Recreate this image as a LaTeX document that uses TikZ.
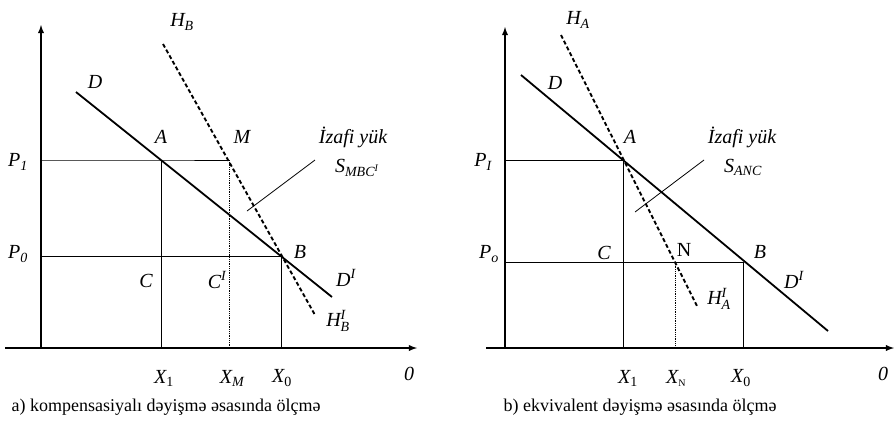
\documentclass[tikz,border=0pt]{standalone}
\usepackage{amsmath}
\usepackage{fontspec}
\setmainfont{Liberation Serif}
\usepackage{tikz}

\begin{document}
\begin{tikzpicture}[x=1pt, y=-1pt, >=latex,
    axis/.style={line width=1.8pt, ->},
    demand/.style={line width=1.8pt},
    hicks/.style={line width=1.9pt, dash pattern=on 4pt off 2.5pt},
    guide/.style={line width=0.8pt},
    dotguide/.style={line width=0.8pt, densely dotted},
    lbl/.style={font=\fontsize{20}{20}\selectfont\itshape, inner sep=0pt},
    capt/.style={font=\fontsize{18}{18}\selectfont, inner sep=0pt}]
    \useasboundingbox (0,0) rectangle (894,432);

    % --- PANEL a: NOQTELER ---
    \coordinate (a-O) at (41,348);
    \coordinate (a-Yt) at (41,25);
    \coordinate (a-Xl) at (5,348);
    \coordinate (a-Xr) at (417,348);
    \coordinate (a-A) at (161,160);
    \coordinate (a-M) at (229,160);
    \coordinate (a-B) at (281,256);
    \coordinate (a-P1) at (41,160);
    \coordinate (a-P0) at (41,256);
    \coordinate (a-X1) at (161,348);
    \coordinate (a-XM) at (229,348);
    \coordinate (a-X0) at (281,348);
    \coordinate (a-D1) at (76,92);
    \coordinate (a-D2) at (332,297);
    \coordinate (a-H1) at (163,44);
    \coordinate (a-H2) at (315,315);
    \coordinate (a-S1) at (247,211);
    \coordinate (a-S2) at (315,160);

    % --- PANEL a: XETLER ---
    \draw[axis] (a-Xl) -- (a-Xr);
    \draw[axis] (a-O) -- (a-Yt);
    \draw[guide] (a-P1) -- (a-A) -- (a-M);
    \draw[guide] (a-P0) -- (a-B);
    \draw[guide] (a-A) -- (a-X1);
    \draw[dotguide] (a-M) -- (a-XM);
    \draw[guide] (a-B) -- (a-X0);
    \draw[demand] (a-D1) -- (a-D2);
    \draw[hicks] (a-H1) -- (a-H2);
    \draw[guide] (a-S1) -- (a-S2);

    % --- PANEL a: YAZILAR ---
    \node[lbl] (a-lHB) at (182,22) {H$_{\textit{B}}$};
    \node[lbl] (a-lD) at (95,82) {D};
    \node[lbl] (a-lA) at (161,137) {A};
    \node[lbl] (a-lM) at (242,137) {M};
    \node[lbl] (a-lIz) at (353,137) {İzafi yük};
    \node[lbl] (a-lS) at (357,168) {S$_{\textit{MBC}^{\textit{I}}}$};
    \node[lbl] (a-lP1) at (18,162) {P$_{\textit{1}}$};
    \node[lbl] (a-lP0) at (18,254) {P$_{\textit{0}}$};
    \node[lbl] (a-lB) at (300,252) {B};
    \node[lbl] (a-lDI) at (346,278) {D$^{\textit{I}}$};
    \node[lbl] (a-lHBI) at (338,321) {H$^{\textit{I}}_{\textit{B}}$};
    \node[lbl] (a-lC) at (146,281) {C};
    \node[lbl] (a-lCI) at (217,280) {C$^{\textit{I}}$};
    \node[lbl] (a-lX1) at (164,378) {X$_{\textup{1}}$};
    \node[lbl] (a-lXM) at (232,378) {X$_{\textit{M}}$};
    \node[lbl] (a-lX0) at (282,378) {X$_{\textup{0}}$};
    \node[lbl] (a-l0) at (409,374) {0};
    \node[capt] (a-cap) at (166,407) {a) kompensasiyalı dəyişmə əsasında ölçmə};

    % --- PANEL b: NOQTELER ---
    \coordinate (b-O) at (505,348);
    \coordinate (b-Yt) at (505,27);
    \coordinate (b-Xl) at (486,348);
    \coordinate (b-Xr) at (894,348);
    \coordinate (b-A) at (623,160);
    \coordinate (b-N) at (675,262);
    \coordinate (b-B) at (743,262);
    \coordinate (b-PI) at (505,160);
    \coordinate (b-Po) at (505,262);
    \coordinate (b-X1) at (623,348);
    \coordinate (b-XN) at (675,348);
    \coordinate (b-X0) at (743,348);
    \coordinate (b-D1) at (521,75);
    \coordinate (b-D2) at (828,331);
    \coordinate (b-H1) at (561,35);
    \coordinate (b-H2) at (698,308);
    \coordinate (b-S1) at (635,212);
    \coordinate (b-S2) at (704,160);

    % --- PANEL b: XETLER ---
    \draw[axis] (b-Xl) -- (b-Xr);
    \draw[axis] (b-O) -- (b-Yt);
    \draw[guide] (b-PI) -- (b-A);
    \draw[guide] (b-Po) -- (b-B);
    \draw[guide] (b-A) -- (b-X1);
    \draw[dotguide] (b-N) -- (b-XN);
    \draw[guide] (b-B) -- (b-X0);
    \draw[demand] (b-D1) -- (b-D2);
    \draw[hicks] (b-H1) -- (b-H2);
    \draw[guide] (b-S1) -- (b-S2);

    % --- PANEL b: YAZILAR ---
    \node[lbl] (b-lHA) at (578,20) {H$_{\textit{A}}$};
    \node[lbl] (b-lD) at (555,83) {D};
    \node[lbl] (b-lA) at (630,137) {A};
    \node[lbl] (b-lIz) at (742,137) {İzafi yük};
    \node[lbl] (b-lS) at (743,167) {S$_{\textit{ANC}}$};
    \node[lbl] (b-lPI) at (483,162) {P$_{\textit{I}}$};
    \node[lbl] (b-lPo) at (489,254) {P$_{\textit{o}}$};
    \node[lbl] (b-lC) at (604,253) {C};
    \node[lbl] (b-lN) at (684,250) {\textup{N}};
    \node[lbl] (b-lB) at (760,252) {B};
    \node[lbl] (b-lDI) at (794,280) {D$^{\textit{I}}$};
    \node[lbl] (b-lHAI) at (719,299) {H$^{\textit{I}}_{\textit{A}}$};
    \node[lbl] (b-lX1) at (628,378) {X$_{\textup{1}}$};
    \node[lbl] (b-lXN) at (676,378) {X$_{\scriptscriptstyle\textup{N}}$};
    \node[lbl] (b-lX0) at (741,378) {X$_{\textup{0}}$};
    \node[lbl] (b-l0) at (883,374) {0};
    \node[capt] (b-cap) at (640,407) {b) ekvivalent dəyişmə əsasında ölçmə};
\end{tikzpicture}
\end{document}
